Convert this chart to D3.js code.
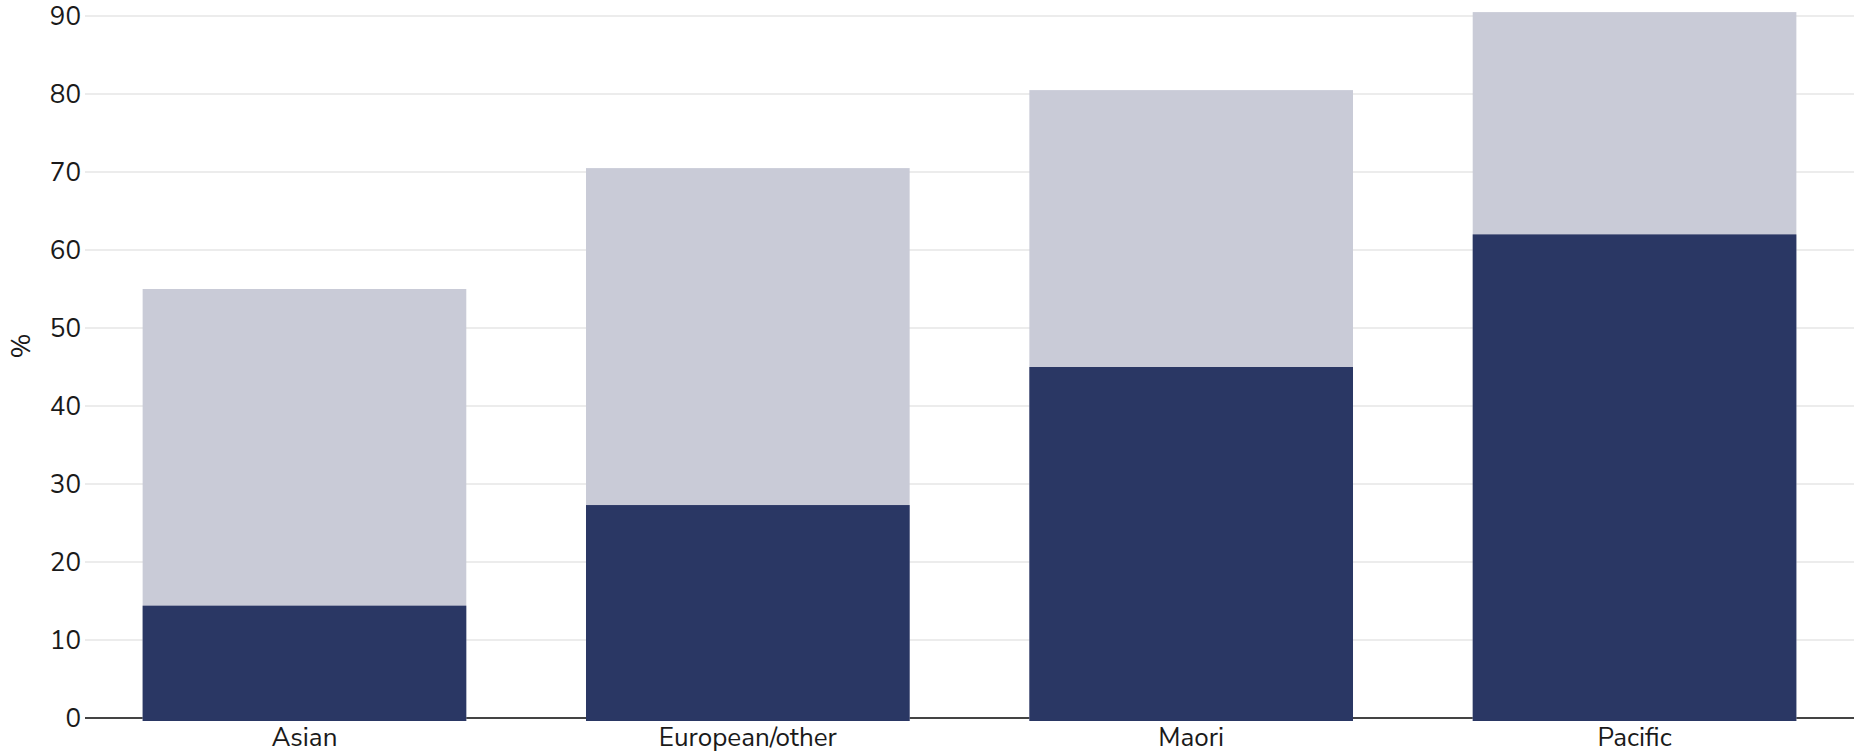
<!DOCTYPE html>
<html>
<head>
<meta charset="utf-8">
<script src="https://cdn.jsdelivr.net/npm/d3@7"></script>
<style>
  body { margin: 0; background: #fff; }
  .chart text { font-family: "Nunito Sans", Lato, "Open Sans", sans-serif; fill: #1a1a1a; }
</style>
</head>
<body>
<div class="chart"></div>
<script>
// DATA ------------------------------
const groups = ["Asian", "European/other", "Maori", "Pacific"];
const totalValues = [55.0, 70.5, 80.5, 90.5];   // light bars
const partValues = [14.4, 27.3, 45.0, 62.0];    // dark bars
const yTicks = [0, 10, 20, 30, 40, 50, 60, 70, 80, 90];
const yLabel = "%";

// CHART INIT ------------------------------
const margin = ({top: 16, right: 0, bottom: 37, left: 85}),
    width = 1854 - margin.left - margin.right,
    height = 755 - margin.top - margin.bottom;

const svg = d3.select(".chart").append("svg")
    .attr("width", width + margin.left + margin.right)
    .attr("height", height + margin.top + margin.bottom)
  .append("g")
    .attr("transform", "translate(" + margin.left + "," + margin.top + ")");

const xScale = d3.scaleBand()
    .domain(groups)
    .range([0, width])
    .paddingInner(0.27)
    .paddingOuter(0.13);

const yScale = d3.scaleLinear()
    .domain([0, 90])
    .range([height, 0]);

// gridlines
svg.append("g")
    .selectAll("line")
    .data(yTicks.filter(d => d > 0))
    .join("line")
    .attr("x1", 0)
    .attr("x2", width)
    .attr("y1", d => yScale(d))
    .attr("y2", d => yScale(d))
    .attr("stroke", "#ececec")
    .attr("stroke-width", 2);

// y axis labels
const yAxis = svg.append("g")
    .call(d3.axisLeft(yScale).tickValues(yTicks).tickSize(0).tickPadding(4));
yAxis.select(".domain").remove();
yAxis.selectAll("text").attr("font-size", 26);

// baseline
svg.append("line")
    .attr("x1", 0)
    .attr("x2", width)
    .attr("y1", yScale(0))
    .attr("y2", yScale(0))
    .attr("stroke", "#444")
    .attr("stroke-width", 2);

// bars
svg.append("g")
    .selectAll("rect")
    .data(groups)
    .join("rect")
    .attr("x", d => xScale(d))
    .attr("width", xScale.bandwidth())
    .attr("y", (d, i) => yScale(totalValues[i]))
    .attr("height", (d, i) => yScale(0) - yScale(totalValues[i]) + 3)
    .attr("fill", "#c9cbd7");

svg.append("g")
    .selectAll("rect")
    .data(groups)
    .join("rect")
    .attr("x", d => xScale(d))
    .attr("width", xScale.bandwidth())
    .attr("y", (d, i) => yScale(partValues[i]))
    .attr("height", (d, i) => yScale(0) - yScale(partValues[i]) + 3)
    .attr("fill", "#2a3764");

// x axis labels
const xAxis = svg.append("g")
    .attr("transform", "translate(0," + height + ")")
    .call(d3.axisBottom(xScale).tickSize(0).tickPadding(10));
xAxis.select(".domain").remove();
xAxis.selectAll("text").attr("font-size", 26);

// y axis title
svg.append("text")
    .attr("transform", "translate(" + (-64) + "," + 330 + ") rotate(-90)")
    .attr("text-anchor", "middle")
    .attr("dy", "0.35em")
    .attr("font-size", 27)
    .text(yLabel);
</script>
</body>
</html>
